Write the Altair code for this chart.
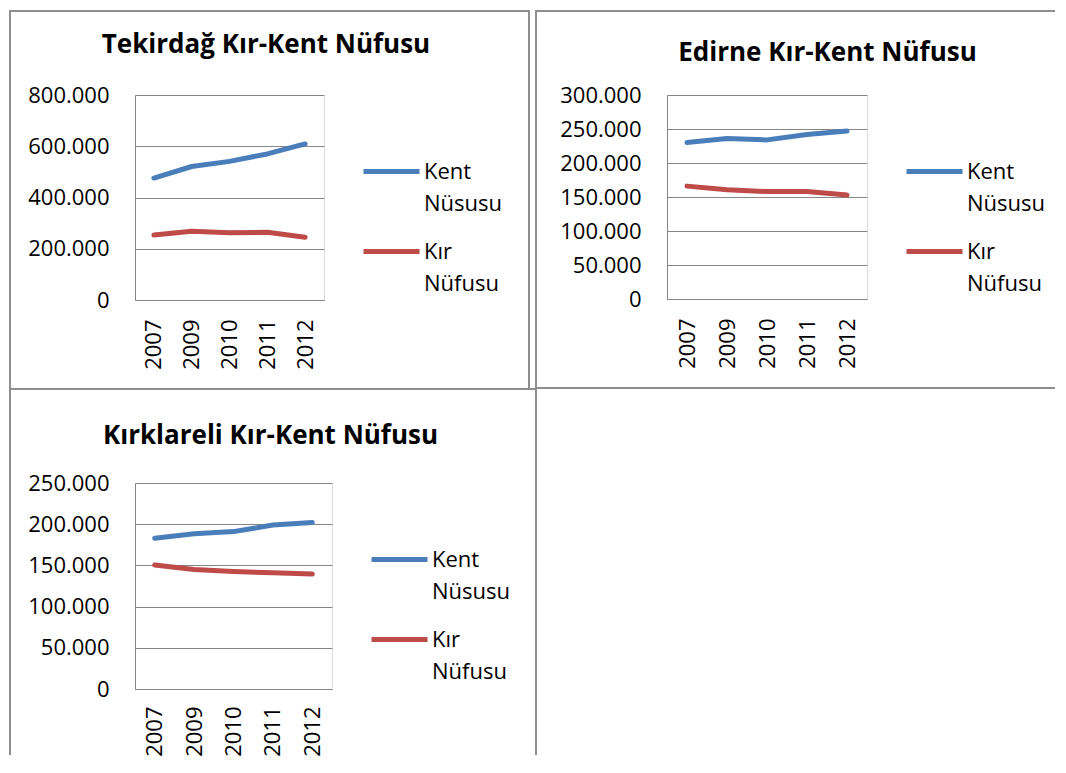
import altair as alt
import pandas as pd

FONT = "Open Sans"
GRID = "#868686"
BORDER = "#8f8f8f"

years = ["2007", "2009", "2010", "2011", "2012"]
series = ["Kent Nüsusu", "Kır Nüfusu"]
colors = ["#4A7EBB", "#BE4B48"]

titles = ["Tekirdağ Kır-Kent Nüfusu", "Edirne Kır-Kent Nüfusu", "Kırklareli Kır-Kent Nüfusu"]

tekirdag_kent = [476000, 521000, 541000, 570000, 609000]
tekirdag_kir = [254000, 268000, 262000, 264000, 245000]
edirne_kent = [230000, 236000, 234000, 242000, 247000]
edirne_kir = [166000, 160500, 158000, 158000, 153000]
kirklareli_kent = [183000, 188500, 191000, 199000, 202000]
kirklareli_kir = [150500, 145000, 142700, 141000, 139500]

tekirdag_ticks = [0, 200000, 400000, 600000, 800000]
edirne_ticks = [0, 50000, 100000, 150000, 200000, 250000, 300000]
kirklareli_ticks = [0, 50000, 100000, 150000, 200000, 250000]

one = pd.DataFrame({"k": [0]})


def seg(x, x2, y, y2):
    enc = dict(x=alt.value(x), y=alt.value(y))
    if x2 is not None:
        enc["x2"] = alt.value(x2)
    if y2 is not None:
        enc["y2"] = alt.value(y2)
    return alt.Chart(one).mark_rule(color=BORDER, strokeWidth=2).encode(**enc)


def panel(title, kent, kir, ticks, w, h, title_pos, xpad, borders):
    df = pd.DataFrame({
        "year": years * 2,
        "series": [series[0]] * len(years) + [series[1]] * len(years),
        "value": kent + kir,
    })
    line = alt.Chart(df).mark_line(
        strokeWidth=5, strokeCap="round", strokeJoin="round"
    ).encode(
        x=alt.X("year:N", sort=years,
                scale=alt.Scale(type="point", padding=0.5),
                axis=alt.Axis(title=None, labelAngle=270, labelPadding=xpad,
                              grid=False, ticks=False, tickSize=0,
                              domainColor=GRID, domainWidth=1,
                              labelFont=FONT, labelFontSize=22, labelColor="black")),
        y=alt.Y("value:Q",
                scale=alt.Scale(domain=[ticks[0], ticks[-1]], nice=False, zero=True),
                axis=alt.Axis(title=None, values=ticks,
                              labelExpr="replace(format(datum.value, ','), ',', '.')",
                              grid=True, gridColor=GRID, gridWidth=1,
                              ticks=False, tickSize=0, labelPadding=26,
                              domainColor=GRID, domainWidth=1,
                              labelFont=FONT, labelFontSize=22, labelColor="black")),
        color=alt.Color("series:N",
                        scale=alt.Scale(domain=series, range=colors),
                        legend=alt.Legend(title=None, orient="none",
                                          legendX=w + 37, legendY=46,
                                          symbolType="stroke", symbolStrokeWidth=5,
                                          symbolSize=3136, labelOffset=2,
                                          labelFont=FONT, labelFontSize=22,
                                          labelColor="black", labelLimit=400,
                                          labelExpr="split(datum.label, ' ')",
                                          rowPadding=6, padding=0)),
    )
    head = alt.Chart(one).mark_text(
        font=FONT, fontSize=26, fontWeight="bold", color="black",
        align="center", baseline="alphabetic"
    ).encode(text=alt.value(title), x=alt.value(title_pos[0]), y=alt.value(title_pos[1]))
    layers = [line, head] + [seg(*b) for b in borders]
    return alt.layer(*layers).properties(width=w, height=h)


# borders, relative to each plot origin (A:(136,95) B:(668,95) C:(136,483))
a_borders = [(-125, 395, -84, None), (-125, None, -85, 294),
             (394, None, -85, 294), (-125, 395, 294, None)]
b_borders = [(-131, 388, -84, None), (-131, None, -85, 293), (-131, 388, 293, None)]
c_borders = [(-125, 402, -94, None), (-125, None, -95, 272), (401, None, -95, 272)]

A = panel(titles[0], tekirdag_kent, tekirdag_kir, tekirdag_ticks, 189, 205, (131, -42), 19, a_borders)
B = panel(titles[1], edirne_kent, edirne_kir, edirne_ticks, 200, 204, (160.5, -34), 19, b_borders)
C = panel(titles[2], kirklareli_kent, kirklareli_kir, kirklareli_ticks, 197, 206, (135.5, -39), 17, c_borders)

chart = alt.concat(
    A, B, C, columns=2, align="each", bounds="flush",
    spacing={"row": 183, "column": 335},
).resolve_scale(
    x="independent", y="independent", color="independent"
).resolve_legend(
    color="independent"
).properties(
    padding=0
).configure_view(
    stroke=None
).configure(
    style={"guide-label": {"lineHeight": 32}}
)

chart.save("out.html", embed_options={"renderer": "svg", "actions": False})
